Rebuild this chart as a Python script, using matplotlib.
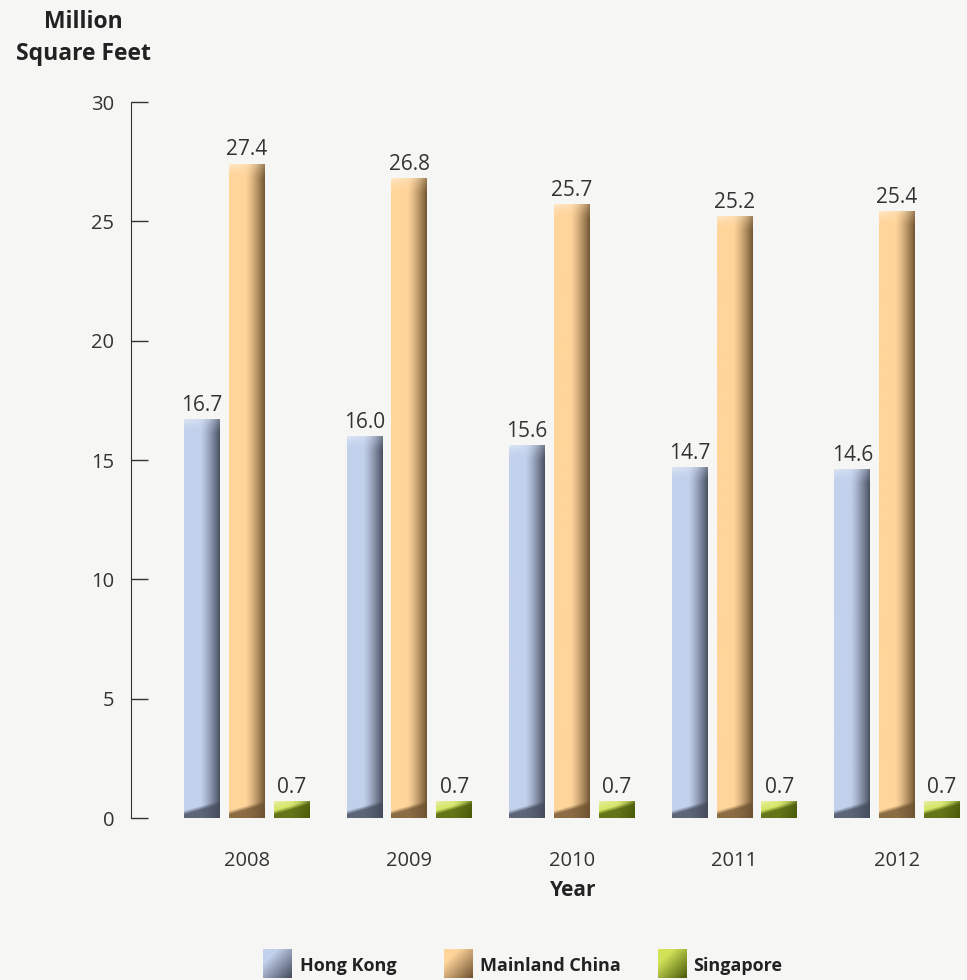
import numpy as np
import matplotlib.pyplot as plt
from matplotlib.colors import to_rgb

plt.rcParams['font.family'] = ['Open Sans', 'DejaVu Sans']

years = ['2008', '2009', '2010', '2011', '2012']
series = ['Hong Kong', 'Mainland China', 'Singapore']
hong_kong = [16.7, 16.0, 15.6, 14.7, 14.6]
mainland_china = [27.4, 26.8, 25.7, 25.2, 25.4]
singapore = [0.7, 0.7, 0.7, 0.7, 0.7]

light = ['#c2d1ec', '#ffd59b', '#d2e35a']
dark = ['#444b5c', '#6e5230', '#485a08']
bg = '#f6f6f4'
txt = '#333333'

W, H, DPI = 967, 980, 100
fig = plt.figure(figsize=(W / DPI, H / DPI), dpi=DPI, facecolor=bg)
ax = fig.add_axes([131 / W, 1 - 818 / H, 1 - 131 / W, (818 - 102) / H])
ax.set_facecolor(bg)
ax.set_xlim(-0.712, 4.43)
ax.set_ylim(0, 30)
px_per_unit = 716 / 30


def bar_image(h_px, lo, hi, w_px=36):
    rows = max(int(round(h_px)), 2)
    lo = np.array(to_rgb(lo))
    hi = np.array(to_rgb(hi))
    c = np.linspace(0, 1, w_px)[None, :]
    r = np.arange(rows)[:, None]
    # horizontal shading: flat light face, rolling off to the dark edge
    t = np.clip((c - 0.45) / 0.55, 0, 1) ** 1.3 * 0.95
    t = np.repeat(t, rows, axis=0)
    # lighter rounded cap at the top
    cap = np.clip(1 - r / 14.0, 0, 1) * (1 - c * 0.6)
    t = t * (1 - 0.6 * cap)
    img = lo[None, None, :] * (1 - t[..., None]) + hi[None, None, :] * t[..., None]
    img = img + (1 - img) * (0.45 * cap[..., None] ** 2)
    # dark shadow across the base
    edge = 7 + 10 * c
    from_bottom = rows - 1 - r
    s = np.clip((edge - from_bottom) / 4.0, 0, 1) * 0.8
    img = img * (1 - s[..., None]) + hi[None, None, :] * s[..., None]
    return np.clip(img, 0, 1)


width = 0.221
offsets = [-0.276, 0, 0.276]
for k, vals in enumerate([hong_kong, mainland_china, singapore]):
    for i, v in enumerate(vals):
        x0 = i + offsets[k] - width / 2
        img = bar_image(v * px_per_unit, light[k], dark[k])
        ax.imshow(img, extent=[x0, x0 + width, 0, v], aspect='auto',
                  interpolation='bilinear', zorder=2)
        ax.text(i + offsets[k], v + 0.15, f'{v:.1f}', ha='center', va='bottom',
                fontsize=15, color=txt)

ax.set_xlim(-0.712, 4.43)
ax.set_ylim(0, 30)
for s in ['top', 'right', 'bottom']:
    ax.spines[s].set_visible(False)
ax.spines['left'].set_color(txt)
ax.set_yticks(range(0, 31, 5))
ax.tick_params(axis='y', direction='in', length=12.5, width=1, color=txt,
               labelsize=14.5, labelcolor=txt, pad=12)
ax.set_xticks(range(len(years)))
ax.set_xticklabels(years)
ax.tick_params(axis='x', length=0, labelsize=14.5, labelcolor=txt, pad=24)

fig.text(83 / W, 1 - 38 / H, 'Million\nSquare Feet', ha='center', va='center',
         fontsize=16.5, fontweight='bold', color='#222222', linespacing=1.4)
fig.text(573 / W, 1 - 890 / H, 'Year', ha='center', va='center',
         fontsize=15, fontweight='bold', color='#222222')

# legend swatches with a diagonal gradient
lx = [263, 444, 658]
tx = [300, 480, 693]
for k, name in enumerate(series):
    sax = fig.add_axes([lx[k] / W, 1 - 978 / H, 29 / W, 29 / H])
    g = np.linspace(0, 1, 40)
    d = np.clip((g[None, :] + g[:, None]) / 2 - 0.25, 0, 1) / 0.75
    lo = np.array(to_rgb(light[k]))
    hi = np.array(to_rgb(dark[k]))
    im = lo * (1 - d[..., None]) + hi * d[..., None]
    sax.imshow(im, aspect='auto', interpolation='bilinear')
    sax.axis('off')
    fig.text(tx[k] / W, 1 - 966 / H, name, ha='left', va='center',
             fontsize=13, fontweight='bold', color='#222222')

fig.savefig('out.png', dpi=DPI, facecolor=bg)
